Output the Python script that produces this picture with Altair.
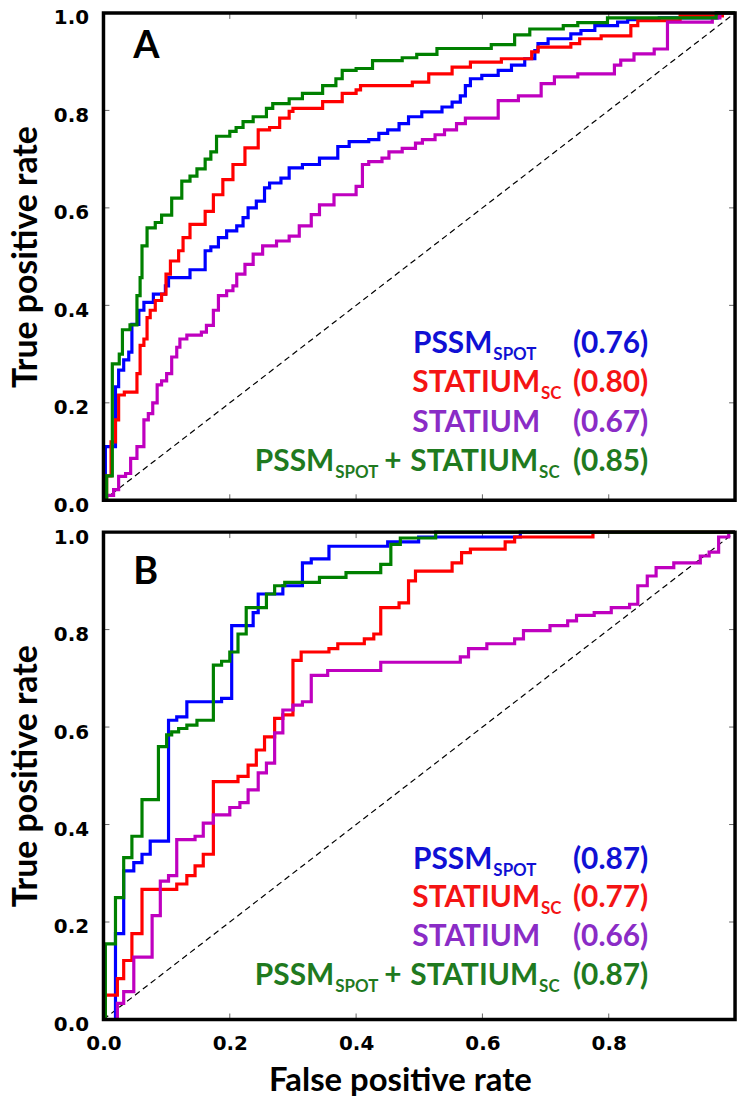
import altair as alt
import pandas as pd

# ---------------- data ----------------
# Panel A
a_blue_fpr = [0, 0.003, 0.019, 0.024, 0.032, 0.040, 0.045, 0.056, 0.064, 0.079, 0.098, 0.103, 0.137, 0.161, 0.170, 0.182, 0.195, 0.211, 0.221, 0.229, 0.242, 0.255, 0.263, 0.281, 0.294, 0.315, 0.342, 0.371, 0.389, 0.420, 0.436, 0.450, 0.468, 0.483, 0.504, 0.536, 0.552, 0.565, 0.573, 0.581, 0.599, 0.625, 0.646, 0.667, 0.683, 0.688, 0.704, 0.740, 0.756, 0.778, 0.814, 0.830, 0.880, 0.972, 1.0]
a_blue_tpr = [0, 0.110, 0.233, 0.267, 0.288, 0.304, 0.361, 0.390, 0.406, 0.423, 0.440, 0.457, 0.473, 0.512, 0.520, 0.539, 0.553, 0.563, 0.580, 0.600, 0.614, 0.641, 0.651, 0.661, 0.682, 0.689, 0.702, 0.726, 0.736, 0.740, 0.753, 0.760, 0.773, 0.787, 0.797, 0.807, 0.817, 0.830, 0.851, 0.865, 0.872, 0.882, 0.893, 0.906, 0.923, 0.937, 0.947, 0.957, 0.964, 0.974, 0.981, 0.986, 0.990, 1.0, 1.0]

a_red_fpr = [0, 0.005, 0.012, 0.019, 0.024, 0.033, 0.053, 0.058, 0.064, 0.069, 0.074, 0.082, 0.092, 0.099, 0.106, 0.119, 0.126, 0.137, 0.161, 0.174, 0.189, 0.205, 0.224, 0.245, 0.263, 0.279, 0.294, 0.300, 0.347, 0.378, 0.400, 0.407, 0.489, 0.515, 0.552, 0.581, 0.630, 0.678, 0.688, 0.740, 0.754, 0.788, 0.835, 0.846, 0.913, 0.980, 1.0]
a_red_tpr = [0, 0.050, 0.120, 0.165, 0.216, 0.222, 0.260, 0.318, 0.331, 0.375, 0.390, 0.410, 0.423, 0.464, 0.491, 0.512, 0.539, 0.566, 0.593, 0.627, 0.658, 0.689, 0.723, 0.760, 0.765, 0.784, 0.798, 0.804, 0.818, 0.835, 0.842, 0.851, 0.858, 0.875, 0.889, 0.899, 0.906, 0.920, 0.930, 0.937, 0.947, 0.953, 0.974, 0.984, 0.994, 1.0, 1.0]

a_purple_fpr = [0, 0.003, 0.016, 0.024, 0.035, 0.043, 0.053, 0.064, 0.071, 0.078, 0.085, 0.092, 0.100, 0.108, 0.116, 0.121, 0.132, 0.155, 0.163, 0.174, 0.182, 0.195, 0.205, 0.211, 0.224, 0.237, 0.252, 0.274, 0.294, 0.310, 0.329, 0.342, 0.365, 0.400, 0.410, 0.420, 0.441, 0.452, 0.473, 0.494, 0.505, 0.525, 0.540, 0.559, 0.573, 0.625, 0.657, 0.693, 0.714, 0.751, 0.809, 0.819, 0.840, 0.872, 0.893, 0.964, 0.976, 1.0]
a_purple_tpr = [0, 0.010, 0.022, 0.049, 0.055, 0.086, 0.110, 0.165, 0.178, 0.200, 0.237, 0.245, 0.260, 0.294, 0.314, 0.331, 0.339, 0.345, 0.359, 0.390, 0.420, 0.430, 0.440, 0.464, 0.484, 0.505, 0.522, 0.532, 0.542, 0.563, 0.586, 0.606, 0.627, 0.644, 0.689, 0.695, 0.702, 0.715, 0.722, 0.733, 0.740, 0.750, 0.760, 0.773, 0.784, 0.820, 0.830, 0.855, 0.869, 0.875, 0.893, 0.903, 0.916, 0.926, 0.981, 0.990, 1.0, 1.0]

a_green_fpr = [0, 0.005, 0.014, 0.025, 0.030, 0.042, 0.053, 0.058, 0.061, 0.069, 0.082, 0.092, 0.108, 0.124, 0.137, 0.148, 0.161, 0.170, 0.179, 0.200, 0.210, 0.221, 0.237, 0.258, 0.268, 0.294, 0.315, 0.347, 0.368, 0.378, 0.400, 0.426, 0.473, 0.496, 0.528, 0.614, 0.651, 0.675, 0.728, 0.751, 0.798, 0.970, 1.0]
a_green_tpr = [0, 0.050, 0.280, 0.300, 0.350, 0.360, 0.420, 0.457, 0.522, 0.559, 0.570, 0.585, 0.620, 0.655, 0.665, 0.680, 0.700, 0.715, 0.747, 0.757, 0.765, 0.777, 0.787, 0.804, 0.814, 0.824, 0.835, 0.851, 0.865, 0.882, 0.886, 0.902, 0.908, 0.915, 0.927, 0.935, 0.955, 0.967, 0.974, 0.980, 0.990, 1.0, 1.0]

# Panel B
b_blue_fpr = [0, 0.019, 0.032, 0.048, 0.061, 0.074, 0.103, 0.116, 0.132, 0.187, 0.203, 0.237, 0.245, 0.284, 0.315, 0.329, 0.357, 0.450, 0.499, 0.660, 1.0]
b_blue_tpr = [0, 0.176, 0.305, 0.322, 0.339, 0.366, 0.614, 0.621, 0.652, 0.659, 0.808, 0.835, 0.873, 0.890, 0.937, 0.945, 0.971, 0.980, 0.990, 1.0, 1.0]

b_red_fpr = [0, 0.003, 0.022, 0.032, 0.045, 0.061, 0.116, 0.132, 0.145, 0.158, 0.174, 0.213, 0.229, 0.242, 0.255, 0.271, 0.284, 0.300, 0.313, 0.357, 0.371, 0.413, 0.428, 0.439, 0.468, 0.483, 0.494, 0.552, 0.567, 0.581, 0.636, 0.651, 0.775, 1.0]
b_red_tpr = [0, 0.050, 0.084, 0.121, 0.176, 0.267, 0.278, 0.295, 0.315, 0.339, 0.488, 0.499, 0.522, 0.553, 0.580, 0.618, 0.625, 0.737, 0.754, 0.761, 0.771, 0.781, 0.791, 0.845, 0.855, 0.900, 0.920, 0.937, 0.958, 0.965, 0.980, 0.990, 1.0, 1.0]

b_purple_fpr = [0, 0.022, 0.032, 0.048, 0.077, 0.090, 0.103, 0.116, 0.145, 0.158, 0.174, 0.200, 0.216, 0.229, 0.245, 0.258, 0.271, 0.284, 0.300, 0.315, 0.329, 0.355, 0.439, 0.565, 0.578, 0.607, 0.651, 0.665, 0.707, 0.735, 0.749, 0.777, 0.804, 0.833, 0.846, 0.861, 0.875, 0.903, 0.945, 0.959, 0.974, 0.990, 1.0]
b_purple_tpr = [0, 0.033, 0.057, 0.128, 0.213, 0.284, 0.295, 0.369, 0.376, 0.403, 0.420, 0.435, 0.445, 0.471, 0.506, 0.526, 0.588, 0.635, 0.645, 0.652, 0.706, 0.716, 0.733, 0.744, 0.761, 0.771, 0.781, 0.798, 0.808, 0.818, 0.829, 0.835, 0.845, 0.852, 0.890, 0.910, 0.927, 0.937, 0.951, 0.959, 0.990, 1.0, 1.0]

b_green_fpr = [0, 0.003, 0.019, 0.032, 0.045, 0.061, 0.087, 0.100, 0.108, 0.119, 0.132, 0.148, 0.174, 0.187, 0.200, 0.213, 0.226, 0.258, 0.271, 0.287, 0.342, 0.384, 0.439, 0.455, 0.470, 0.526, 1.0]
b_green_tpr = [0, 0.155, 0.250, 0.332, 0.376, 0.451, 0.560, 0.584, 0.590, 0.597, 0.604, 0.614, 0.727, 0.735, 0.754, 0.791, 0.845, 0.873, 0.890, 0.897, 0.907, 0.917, 0.934, 0.975, 0.988, 1.0, 1.0]

diag = [0.0, 1.0]
tick_vals = [0.2, 0.4, 0.6, 0.8]
y_label_vals = [0.0, 0.2, 0.4, 0.6, 0.8, 1.0]
x_label_vals = [0.0, 0.2, 0.4, 0.6, 0.8]

method_names = ["PSSM", "STATIUM", "STATIUM", "STATIUM"]
method_subs = ["SPOT", "SC", "", "SC"]
combo_prefix = ["PSSM", "SPOT", "+"]
auc_a = [0.76, 0.80, 0.67, 0.85]
auc_b = [0.87, 0.77, 0.66, 0.87]

# ---------------- styling ----------------
W, H = 635, 490
LINE_COL = {"blue": "#0000FF", "red": "#FF0000", "purple": "#BF00BF", "green": "#008000"}
TEXT_COL = ["#1010D4", "#F41414", "#8A2CC6", "#1F7A1F"]
TFONT = "Lato"

xs = alt.Scale(domain=[0, 1], nice=False, zero=False)
ys = alt.Scale(domain=[0, 1], nice=False, zero=False)


def axes(show_x):
    if show_x:
        xax = alt.Axis(values=x_label_vals, format=".1f", title="False positive rate",
                       labelFont="DejaVu Sans", labelFontWeight="bold", labelFontSize=20,
                       labelColor="black", labelPadding=14, labelFlush=False,
                       ticks=False, domain=False, grid=False,
                       titleFont=TFONT, titleFontSize=33, titleFontWeight="bold",
                       titleColor="black", titlePadding=11, titleX=298)
    else:
        xax = None
    yax = alt.Axis(values=y_label_vals, format=".1f", title="True positive rate",
                   labelFont="DejaVu Sans", labelFontWeight="bold", labelFontSize=20,
                   labelColor="black", labelPadding=15, labelFlush=False, labelOffset=5,
                   ticks=False, domain=False, grid=False,
                   titleFont=TFONT, titleFontSize=34, titleFontWeight="bold",
                   titleColor="black", titlePadding=10)
    return xax, yax


def diag_layer(xax, yax):
    df = pd.DataFrame({"fpr": diag, "tpr": diag})
    return alt.Chart(df).mark_line(color="black", strokeDash=[6, 4], strokeWidth=1.2).encode(
        x=alt.X("fpr:Q", scale=xs, axis=xax),
        y=alt.Y("tpr:Q", scale=ys, axis=yax),
    )


def curve(fpr, tpr, color, xax, yax):
    df = pd.DataFrame({"fpr": fpr, "tpr": tpr, "k": list(range(len(fpr)))})
    return alt.Chart(df).mark_line(interpolate="step-after", color=color, strokeWidth=3.2).encode(
        x=alt.X("fpr:Q", scale=xs, axis=xax),
        y=alt.Y("tpr:Q", scale=ys, axis=yax),
        order="k:Q",
    )


def tick_layers(xax, yax):
    tdf = pd.DataFrame({"fpr": tick_vals, "tpr": tick_vals})
    rule = alt.Chart(tdf).mark_rule(color="#666666", strokeWidth=1)
    top = rule.encode(x=alt.X("fpr:Q", scale=xs, axis=xax), y=alt.value(0), y2=alt.value(6))
    bot = rule.encode(x=alt.X("fpr:Q", scale=xs, axis=xax), y=alt.value(H - 6), y2=alt.value(H))
    left = rule.encode(y=alt.Y("tpr:Q", scale=ys, axis=yax), x=alt.value(0), x2=alt.value(6))
    right = rule.encode(y=alt.Y("tpr:Q", scale=ys, axis=yax), x=alt.value(W - 6), x2=alt.value(W))
    return [top, bot, left, right]


def frame_layer():
    return alt.Chart(pd.DataFrame({"t": [0]})).mark_rect(
        fill=None, stroke="black", strokeWidth=3.5).encode(
        x=alt.value(0), x2=alt.value(W), y=alt.value(0), y2=alt.value(H))


def txt(s, x, y, color, size, align="left"):
    return alt.Chart(pd.DataFrame({"t": [s]})).mark_text(
        align=align, baseline="alphabetic", font=TFONT, fontWeight="bold",
        fontSize=size, color=color).encode(text="t:N", x=alt.value(x), y=alt.value(y))


def legend_layers(aucs, baselines):
    out = []
    main_size, sub_size, sub_dy = 30, 17, 7
    ends = [391, 439, 439, 437]
    for i in range(4):
        yb = baselines[i]
        col = TEXT_COL[i]
        out.append(txt(method_names[i], ends[i], yb, col, main_size, "right"))
        if method_subs[i]:
            out.append(txt(method_subs[i], ends[i] + 1, yb + sub_dy, col, sub_size, "left"))
        out.append(txt("(%.2f)" % aucs[i], 472, yb, col, main_size, "left"))
    # "PSSM_SPOT +" prefix on the combined line
    yb = baselines[3]
    col = TEXT_COL[3]
    out.append(txt(combo_prefix[0], 232, yb, col, main_size, "right"))
    out.append(txt(combo_prefix[1], 233, yb + sub_dy, col, sub_size, "left"))
    out.append(txt(combo_prefix[2], 291, yb, col, main_size, "center"))
    return out


def panel(curves, aucs, letter, letter_y, baselines, show_x):
    xax, yax = axes(show_x)
    layers = [diag_layer(xax, yax)]
    layers += tick_layers(xax, yax)
    cols = ["blue", "red", "purple", "green"]
    for (f, t), c in zip(curves, cols):
        layers.append(curve(f, t, LINE_COL[c], xax, yax))
    layers += legend_layers(aucs, baselines)
    layers.append(txt(letter, 30, letter_y, "black", 38, "left"))
    layers.append(frame_layer())
    return alt.layer(*layers).properties(width=W, height=H)


pa = panel([(a_blue_fpr, a_blue_tpr), (a_red_fpr, a_red_tpr),
            (a_purple_fpr, a_purple_tpr), (a_green_fpr, a_green_tpr)],
           auc_a, "A", 45, [342, 381, 421, 461], False)
pb = panel([(b_blue_fpr, b_blue_tpr), (b_red_fpr, b_red_tpr),
            (b_purple_fpr, b_purple_tpr), (b_green_fpr, b_green_tpr)],
           auc_b, "B", 52, [339, 377, 416, 455], True)

chart = alt.vconcat(pa, pb, spacing=32, bounds="flush").properties(
    padding={"left": 1, "top": -5, "right": 2, "bottom": 0}
).configure_view(stroke=None).configure(background="white")

chart.save("out.html", embed_options={"renderer": "svg", "actions": False})
